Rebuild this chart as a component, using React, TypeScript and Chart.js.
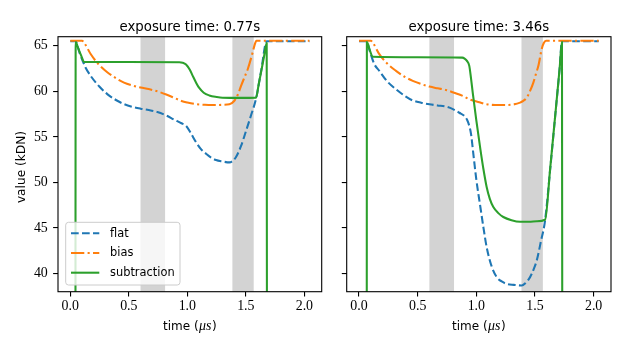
import React, { useEffect, useRef } from 'react';
import { Chart, registerables } from 'chart.js';

Chart.register(...registerables);

// ---------- data ----------
const xTicks = [0, 0.5, 1.0, 1.5, 2.0];
const yTicks = [40, 45, 50, 55, 60, 65];
const shadedSpans: [number, number][] = [[0.6, 0.81], [1.385, 1.567]];
const seriesLabels = ['flat', 'bias', 'subtraction'];
const panelTitles = ['exposure time: 0.77s', 'exposure time: 3.46s'];
const xAxisLabelParts = ['time (', 'μs', ')'];
const yAxisLabel = 'value (kDN)';

// exposure 0.77 s
const flatA: [number, number][] = [
  [0, 65.5], [0.045, 65.5], [0.08, 64.2], [0.117, 63.0], [0.131, 62.6], [0.174, 61.7],
  [0.25, 60.5], [0.316, 59.7], [0.39, 59.05], [0.459, 58.6], [0.53, 58.3], [0.601, 58.1],
  [0.67, 57.95], [0.744, 57.73], [0.82, 57.35], [0.886, 56.9], [0.95, 56.5], [0.99, 56.2],
  [1.03, 55.4], [1.08, 54.3], [1.12, 53.6], [1.16, 53.15], [1.2, 52.75], [1.245, 52.45],
  [1.3, 52.3], [1.36, 52.2], [1.39, 52.4], [1.416, 52.8], [1.459, 54.0], [1.5, 55.6],
  [1.545, 57.4], [1.587, 59.2], [1.63, 62.2], [1.678, 65.5], [2.043, 65.5],
];
const biasA: [number, number][] = [
  [0, 65.55], [0.1, 65.55], [0.12, 65.3], [0.174, 64.1], [0.24, 63.0], [0.316, 62.1],
  [0.39, 61.45], [0.459, 60.96], [0.53, 60.65], [0.601, 60.41], [0.67, 60.25], [0.744, 60.0],
  [0.82, 59.65], [0.886, 59.3], [0.95, 58.95], [1.0, 58.78], [1.074, 58.6], [1.15, 58.52],
  [1.216, 58.5], [1.3, 58.52], [1.359, 58.58], [1.4, 58.94], [1.43, 59.6], [1.459, 60.6],
  [1.49, 61.6], [1.516, 62.43], [1.558, 64.26], [1.575, 65.1], [1.59, 65.55], [2.043, 65.55],
];
const subA: [number, number][] = [
  [0.043, 0], [0.046, 65.4], [0.07, 64.65], [0.094, 63.9], [0.117, 63.24], [0.5, 63.22],
  [0.932, 63.2], [0.96, 63.15], [0.989, 62.95], [1.02, 62.4], [1.046, 61.7], [1.075, 60.95],
  [1.1, 60.4], [1.14, 59.85], [1.188, 59.55], [1.25, 59.38], [1.3, 59.3], [1.45, 59.28],
  [1.587, 59.3], [1.61, 60.8], [1.633, 62.3], [1.655, 63.8], [1.678, 65.3], [1.682, 0],
];

// exposure 3.46 s
const flatB: [number, number][] = [
  [0, 65.5], [0.065, 65.5], [0.09, 64.5], [0.13, 63.0], [0.173, 62.25], [0.24, 61.1],
  [0.315, 60.23], [0.39, 59.5], [0.458, 59.0], [0.53, 58.75], [0.6, 58.58], [0.67, 58.45],
  [0.742, 58.32], [0.8, 58.05], [0.855, 57.65], [0.898, 57.3], [0.92, 56.9], [0.94, 56.2],
  [0.955, 55.3], [0.974, 53.2], [1.0, 50.3], [1.03, 47.68], [1.06, 45.1], [1.088, 42.9],
  [1.13, 40.8], [1.174, 39.6], [1.22, 39.1], [1.259, 38.86], [1.32, 38.75], [1.387, 38.68],
  [1.42, 38.95], [1.458, 39.6], [1.49, 40.5], [1.515, 41.43], [1.55, 43.5], [1.586, 45.84],
  [1.63, 51.5], [1.67, 57.0], [1.71, 62.5], [1.73, 65.5], [2.043, 65.5],
];
const biasB: [number, number][] = [
  [0, 65.55], [0.1, 65.55], [0.12, 65.3], [0.173, 64.08], [0.24, 63.05], [0.315, 62.25],
  [0.39, 61.6], [0.458, 61.15], [0.53, 60.8], [0.6, 60.52], [0.67, 60.33], [0.742, 60.15],
  [0.81, 59.85], [0.884, 59.5], [0.946, 59.1], [1.026, 58.8], [1.089, 58.58], [1.16, 58.5],
  [1.23, 58.5], [1.31, 58.55], [1.373, 58.76], [1.4, 58.95], [1.43, 59.3], [1.46, 60.1],
  [1.486, 60.96], [1.51, 62.0], [1.529, 62.8], [1.557, 64.63], [1.575, 65.3], [1.594, 65.55],
  [2.043, 65.55],
];
const subB: [number, number][] = [
  [0.065, 0], [0.067, 65.4], [0.09, 64.6], [0.116, 63.8], [0.5, 63.75], [0.88, 63.7],
  [0.9, 63.6], [0.92, 63.35], [0.94, 62.8], [0.955, 61.4], [0.969, 59.9], [1.0, 56.8],
  [1.035, 53.6], [1.06, 51.5], [1.088, 49.5], [1.115, 48.2], [1.145, 47.3], [1.19, 46.6],
  [1.23, 46.2], [1.3, 45.85], [1.373, 45.68], [1.45, 45.68], [1.515, 45.73], [1.586, 45.9],
  [1.63, 51.6], [1.67, 57.0], [1.71, 62.5], [1.73, 65.4], [1.735, 0],
];

const panels = [
  { flat: flatA, bias: biasA, sub: subA },
  { flat: flatB, bias: biasB, sub: subB },
];

// ---------- styles ----------
const LW = 2.08;
const COLORS = ['#1f77b4', '#ff7f0e', '#2ca02c'];
const DASHES = [[7.7, 3.3], [13.3, 3.3, 2.1, 3.3], []];
const SANS = '"DejaVu Sans"';
const SERIF = '"Liberation Serif"';

const toXY = (arr: [number, number][]) => arr.map(([x, y]) => ({ x, y }));

function makeDecor(title: string, isLeft: boolean) {
  return {
    id: 'decor',
    beforeDatasetsDraw(chart: any) {
      const { ctx, chartArea: a } = chart;
      const xs = chart.scales.x;
      ctx.save();
      ctx.fillStyle = '#d3d3d3';
      for (const [s, e] of shadedSpans) {
        const x1 = xs.getPixelForValue(s);
        const x2 = xs.getPixelForValue(e);
        ctx.fillRect(x1, a.top, x2 - x1, a.bottom - a.top);
      }
      ctx.restore();
    },
    afterDatasetsDraw(chart: any) {
      const { ctx, chartArea: a } = chart;
      ctx.save();
      ctx.strokeStyle = '#000';
      ctx.lineWidth = 1.1;
      ctx.strokeRect(a.left, a.top, a.right - a.left, a.bottom - a.top);
      ctx.restore();
    },
    afterDraw(chart: any) {
      const { ctx, chartArea: a } = chart;
      const cx = (a.left + a.right) / 2;
      ctx.save();
      ctx.fillStyle = '#000';
      // title
      ctx.font = `13.3px ${SANS}`;
      ctx.textAlign = 'center';
      ctx.textBaseline = 'alphabetic';
      ctx.fillText(title, cx, 30.7);

      // x label (mixed fonts)
      const f1 = `12px ${SANS}`;
      const f2 = `italic 13.9px ${SERIF}`;
      ctx.textAlign = 'left';
      ctx.font = f1;
      const w1 = ctx.measureText(xAxisLabelParts[0]).width;
      const w3 = ctx.measureText(xAxisLabelParts[2]).width;
      ctx.font = f2;
      const w2 = ctx.measureText(xAxisLabelParts[1]).width + 1;
      let x = cx - (w1 + w2 + w3) / 2;
      const base = 329.5;
      ctx.font = f1;
      ctx.fillText(xAxisLabelParts[0], x, base);
      x += w1;
      ctx.font = f2;
      ctx.fillText(xAxisLabelParts[1], x + 0.5, base);
      x += w2;
      ctx.font = f1;
      ctx.fillText(xAxisLabelParts[2], x, base);

      if (isLeft) {
        // y label
        ctx.save();
        ctx.translate(25.3, 167);
        ctx.rotate(-Math.PI / 2);
        ctx.font = `12.2px ${SANS}`;
        ctx.textAlign = 'center';
        ctx.textBaseline = 'alphabetic';
        ctx.fillText(yAxisLabel, 0, 0);
        ctx.restore();

        // legend
        const bw = 114.3, bh = 62.7;
        const bx = a.left + 7.7, by = a.bottom - 6.7 - bh;
        ctx.beginPath();
        (ctx as any).roundRect(bx, by, bw, bh, 2.8);
        ctx.fillStyle = 'rgba(255,255,255,0.8)';
        ctx.fill();
        ctx.strokeStyle = '#cccccc';
        ctx.lineWidth = 1;
        ctx.stroke();
        const dsets = chart.data.datasets;
        ctx.font = `11.4px ${SANS}`;
        ctx.textBaseline = 'middle';
        ctx.textAlign = 'left';
        dsets.forEach((ds: any, i: number) => {
          const yy = by + 11 + i * 19.7;
          ctx.beginPath();
          ctx.strokeStyle = ds.borderColor;
          ctx.lineWidth = ds.borderWidth;
          ctx.setLineDash(ds.borderDash || []);
          ctx.moveTo(bx + 5.3, yy);
          ctx.lineTo(bx + 33.6, yy);
          ctx.stroke();
          ctx.setLineDash([]);
          ctx.fillStyle = '#000';
          ctx.fillText(ds.label, bx + 44.3, yy + 0.5);
        });
      }
      ctx.restore();
    },
  };
}

function buildConfig(idx: number): any {
  const isLeft = idx === 0;
  const p = panels[idx];
  const seriesData = [p.flat, p.bias, p.sub];
  const datasets = seriesData.map((d, i) => ({
    label: seriesLabels[i],
    data: toXY(d),
    borderColor: COLORS[i],
    backgroundColor: COLORS[i],
    borderWidth: LW,
    borderDash: DASHES[i],
    borderJoinStyle: 'round',
    pointRadius: 0,
    pointHoverRadius: 0,
    fill: false,
    tension: 0,
    cubicInterpolationMode: 'monotone',
    order: 3 - i,
  }));
  const yWidth = isLeft ? 58 : 12;
  const plotLeft = isLeft ? 58 : 346.7;
  const plotRight = isLeft ? 321.7 : 611;
  const gridOpts = {
    drawOnChartArea: false,
    drawTicks: true,
    tickLength: 4.9,
    color: '#000',
    lineWidth: 1.1,
  };
  return {
    type: 'line',
    data: { datasets },
    options: {
      responsive: false,
      animation: false,
      devicePixelRatio: 1,
      events: [],
      layout: {
        padding: { left: plotLeft - yWidth, right: 630 - plotRight, top: 36.7, bottom: 0 },
      },
      plugins: {
        legend: { display: false },
        title: { display: false },
        tooltip: { enabled: false },
      },
      scales: {
        x: {
          type: 'linear',
          min: -0.105,
          max: 2.148,
          afterBuildTicks: (s: any) => {
            s.ticks = xTicks.map((v) => ({ value: v }));
          },
          afterFit: (s: any) => {
            s.height = 350 - 291.7;
          },
          grid: gridOpts,
          border: { display: false },
          ticks: {
            font: { family: 'Liberation Serif', size: 13.9 },
            color: '#000',
            padding: 1.8,
            maxRotation: 0,
            autoSkip: false,
            callback: (v: any) => Number(v).toFixed(1),
          },
        },
        y: {
          type: 'linear',
          min: 38,
          max: 66,
          afterBuildTicks: (s: any) => {
            s.ticks = yTicks.map((v) => ({ value: v }));
          },
          afterFit: (s: any) => {
            s.width = yWidth;
          },
          grid: gridOpts,
          border: { display: false },
          ticks: {
            display: isLeft,
            font: { family: 'Liberation Serif', size: 13.9 },
            color: '#000',
            padding: 5.3,
            autoSkip: false,
            callback: (v: any) => String(v),
          },
        },
      },
    },
    plugins: [makeDecor(panelTitles[idx], isLeft)],
  };
}

export default function App() {
  const ref1 = useRef<HTMLCanvasElement | null>(null);
  const ref2 = useRef<HTMLCanvasElement | null>(null);

  useEffect(() => {
    const charts: Chart[] = [];
    if (ref1.current) charts.push(new Chart(ref1.current, buildConfig(0)));
    if (ref2.current) charts.push(new Chart(ref2.current, buildConfig(1)));
    return () => charts.forEach((c) => c.destroy());
  }, []);

  const cs: React.CSSProperties = { position: 'absolute', left: 0, top: 0, width: 630, height: 350 };
  return (
    <div style={{ position: 'absolute', left: 0, top: 0, width: 630, height: 350, background: '#fff' }}>
      <canvas ref={ref1} width={630} height={350} style={cs} />
      <canvas ref={ref2} width={630} height={350} style={cs} />
    </div>
  );
}
